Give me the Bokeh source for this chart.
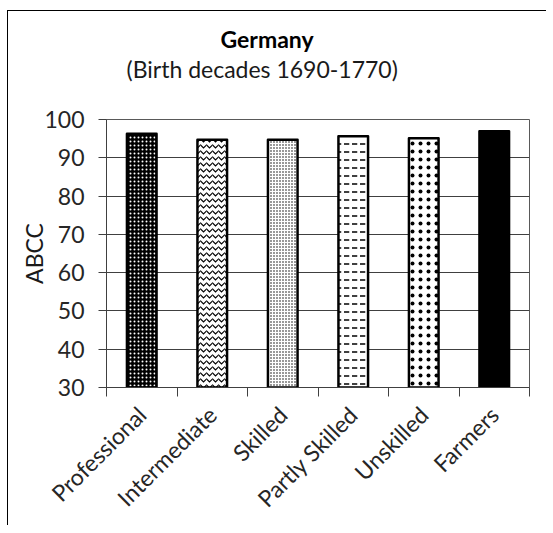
import math
from bokeh.plotting import figure
from bokeh.models import ColumnDataSource, FixedTicker, Range1d, Title
from bokeh.embed import file_html
from bokeh.resources import INLINE

categories = ["Professional", "Intermediate", "Skilled", "Partly Skilled", "Unskilled", "Farmers"]
abcc = [96.3, 94.7, 94.7, 95.6, 95.1, 96.9]
y_ticks = [30, 40, 50, 60, 70, 80, 90, 100]

# styles (kept separate from data)
fills = ["black", "white", "white", "white", "white", "black"]
hatch_patterns = ["dot", "horizontal_wave", "dot", "horizontal_dash", "dot", " "]
hatch_colors = ["white", "black", "black", "black", "black", "black"]
hatch_scales = [4, 6, 3, 8, 8, 4]
hatch_weights = [1.5, 1.2, 1.0, 1.5, 0.3, 1.0]

xs = [i + 0.5 for i in range(len(categories))]
src = ColumnDataSource(dict(x=xs, top=abcc, fill=fills, hp=hatch_patterns, hc=hatch_colors,
                            hs=hatch_scales, hw=hatch_weights))

FONT = "Lato"
FS = "23px"
p = figure(frame_width=423, frame_height=268, output_backend="svg", toolbar_location=None,
           x_range=Range1d(0, len(categories)), y_range=Range1d(30, 100),
           min_border_left=98, min_border_right=17, min_border_top=108, min_border_bottom=130)
p.margin = (10, 0, 0, 7)

# spacer between the subtitle and the plot frame
p.add_layout(Title(text=" ", text_font_size="2px", standoff=33), "above")
p.add_layout(Title(text="(Birth decades 1690-1770)", align="left", offset=20,
                   text_font=FONT, text_font_size=FS, text_font_style="normal",
                   text_color="#1a1a1a", standoff=0), "above")
p.add_layout(Title(text="Germany", align="left", offset=114,
                   text_font=FONT, text_font_size=FS, text_font_style="bold",
                   text_color="black", standoff=0), "above")

p.vbar(x="x", top="top", bottom=30, width=0.42, source=src,
       fill_color="fill", line_color="black", line_width=2.5, line_join="round",
       hatch_pattern="hp", hatch_color="hc", hatch_scale="hs", hatch_weight="hw")

p.background_fill_color = "white"
p.border_fill_color = "white"
p.outline_line_color = "#595959"
p.outline_line_width = 1

p.xgrid.visible = False
p.ygrid.grid_line_color = "#404040"
p.ygrid.grid_line_width = 1
p.ygrid.ticker = FixedTicker(ticks=y_ticks)

yax = p.yaxis[0]
yax.ticker = FixedTicker(ticks=y_ticks)
yax.axis_label = "ABCC"
yax.axis_label_text_font = FONT
yax.axis_label_text_font_size = FS
yax.axis_label_text_font_style = "normal"
yax.axis_label_text_color = "#1a1a1a"
yax.axis_label_standoff = -7
yax.major_label_text_font = FONT
yax.major_label_text_font_size = FS
yax.major_label_text_color = "#262626"
yax.major_label_standoff = 14
yax.major_tick_in = 0
yax.major_tick_out = 8
yax.minor_tick_out = 0
yax.minor_tick_in = 0
yax.axis_line_color = "#404040"
yax.major_tick_line_color = "#404040"

xax = p.xaxis[0]
xax.ticker = FixedTicker(ticks=xs, minor_ticks=list(range(len(categories) + 1)))
xax.major_label_overrides = {x: c for x, c in zip(xs, categories)}
xax.major_label_orientation = math.pi / 4
xax.major_label_text_font = FONT
xax.major_label_text_font_size = FS
xax.major_label_text_color = "#262626"
xax.major_label_standoff = 14
xax.major_tick_in = 0
xax.major_tick_out = 0
xax.minor_tick_in = 0
xax.minor_tick_out = 9
xax.minor_tick_line_color = "#404040"
xax.axis_line_color = "#404040"

p.styles = {"border-left": "1.5px solid black", "border-top": "1.5px solid black"}

open("out.html", "w").write(file_html(p, INLINE))
